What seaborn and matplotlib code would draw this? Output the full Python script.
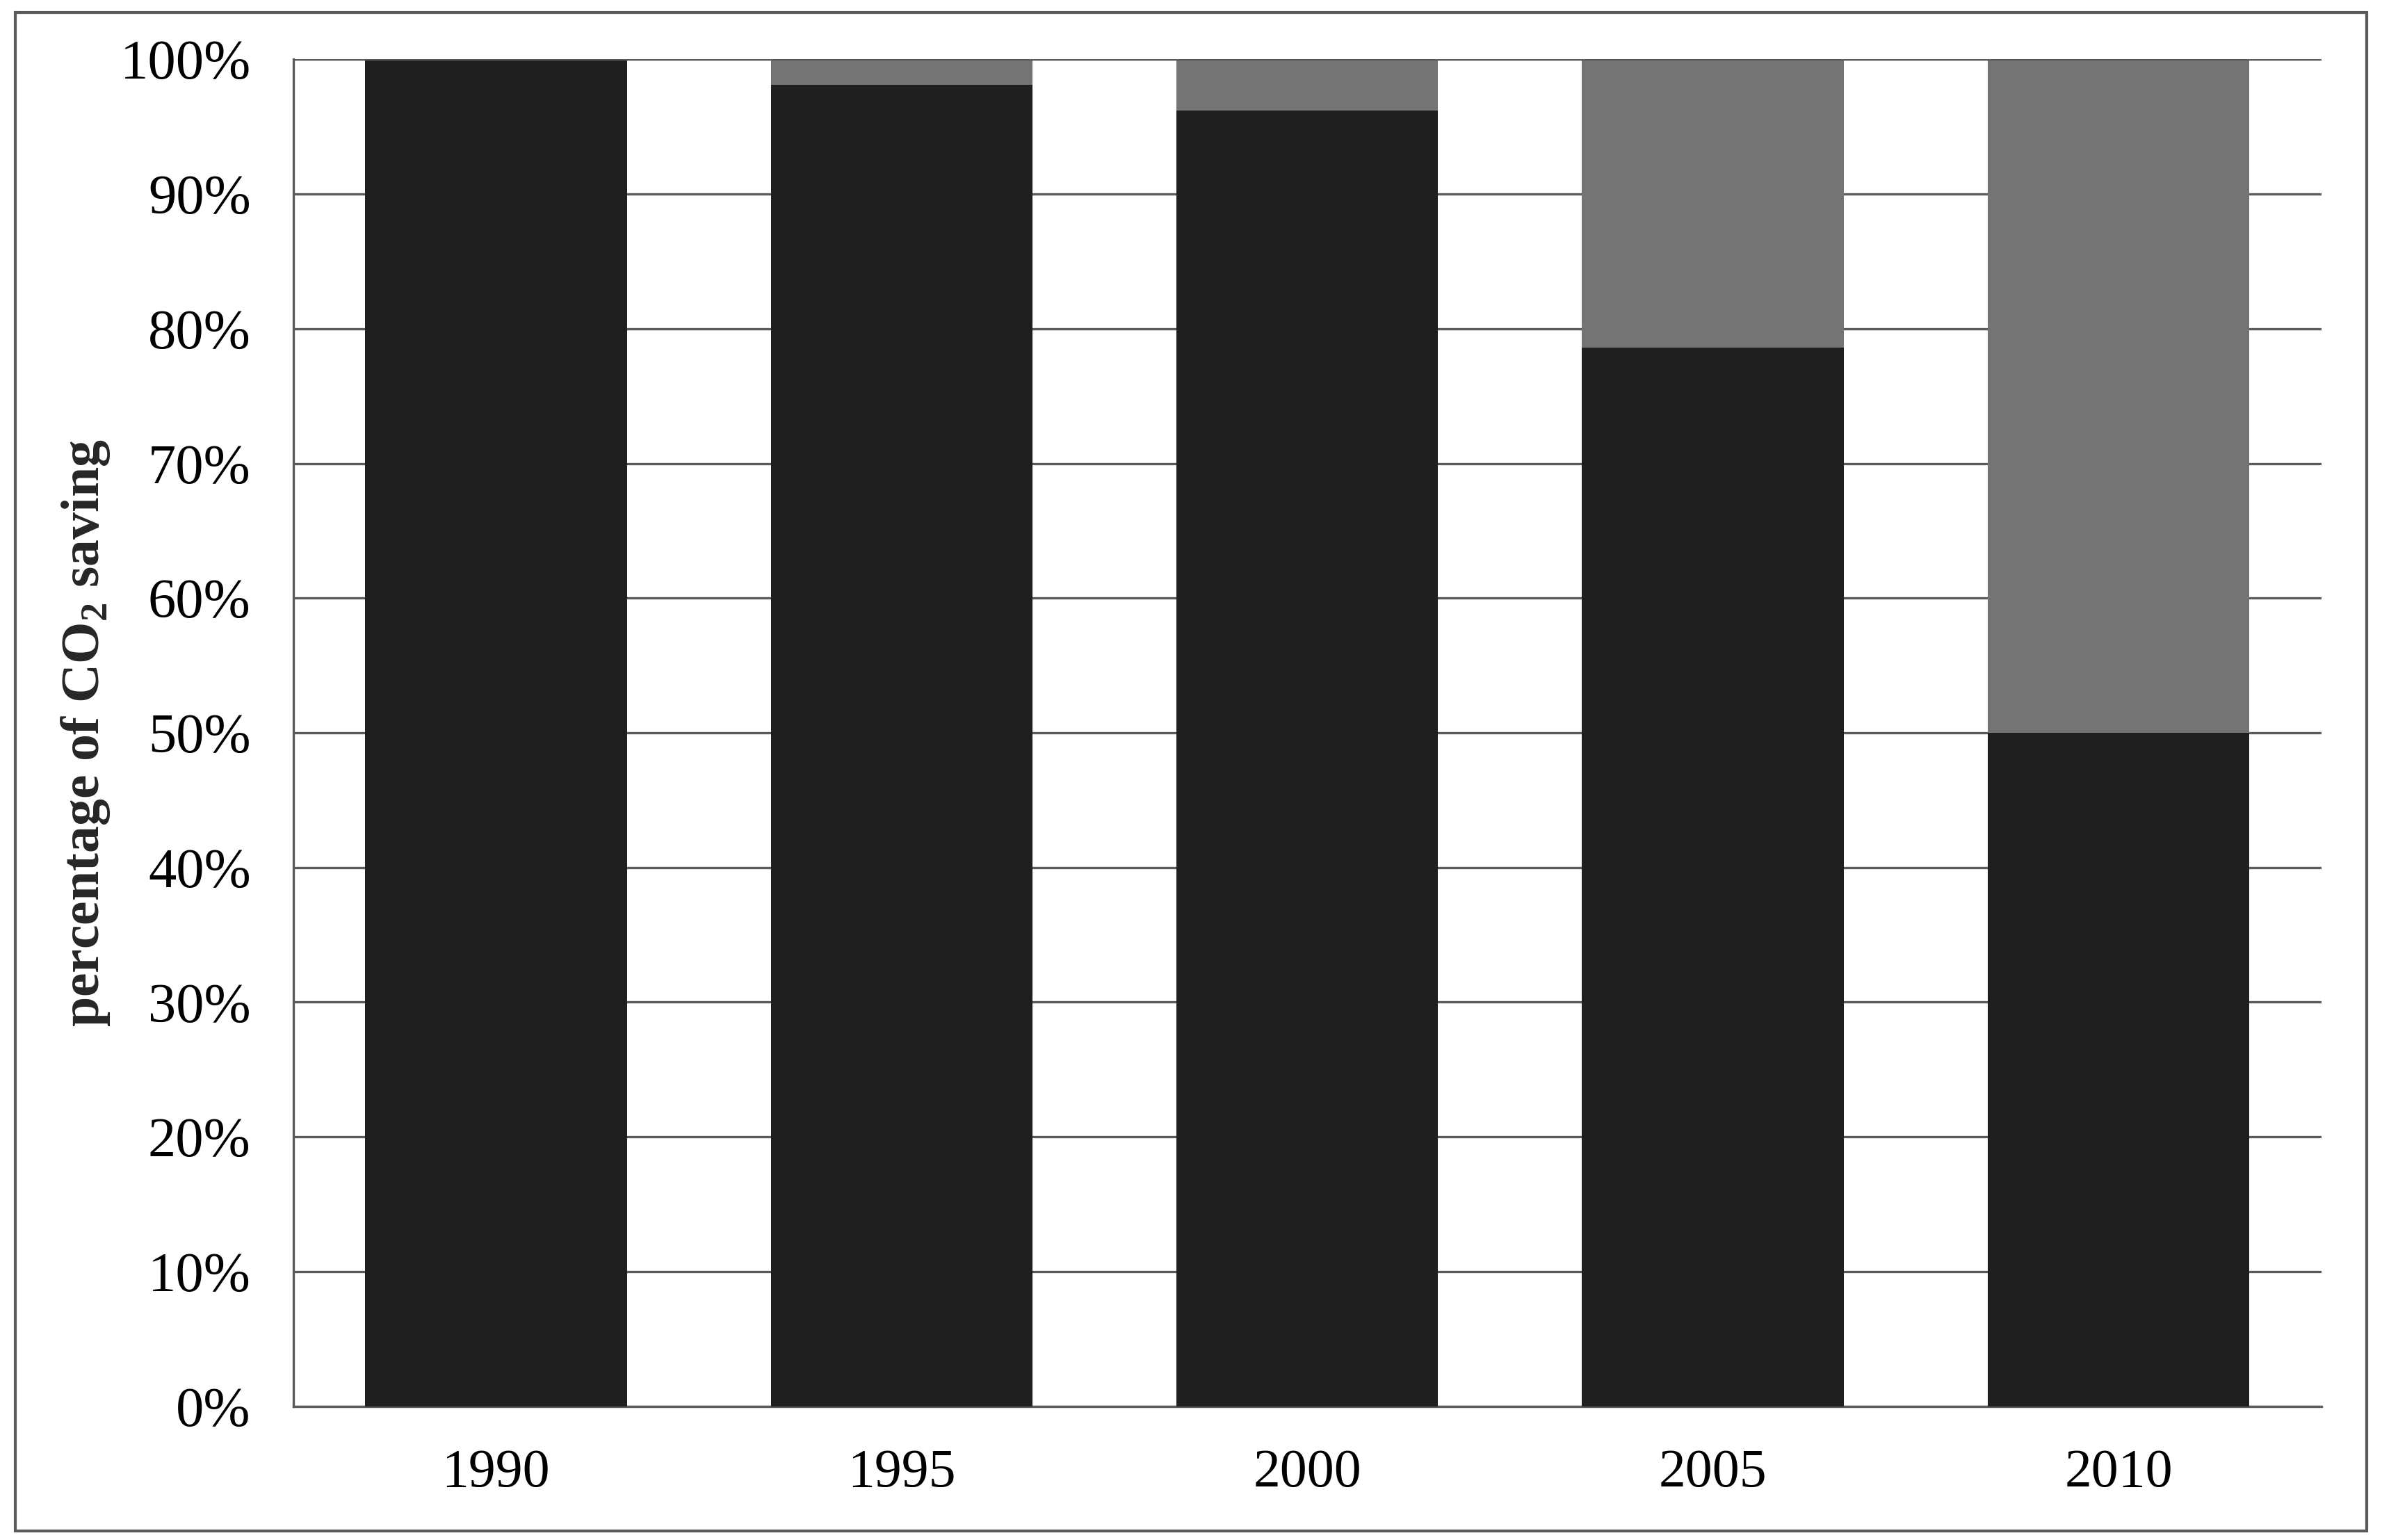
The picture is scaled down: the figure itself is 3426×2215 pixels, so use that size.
import pandas as pd
import matplotlib.pyplot as plt
import seaborn as sns
from matplotlib.patches import Rectangle
from matplotlib.ticker import PercentFormatter

years = ['1990', '1995', '2000', '2005', '2010']
lower_share = [100.0, 98.1, 96.2, 78.6, 50.0]
upper_share = [0.0, 1.9, 3.8, 21.4, 50.0]

df = pd.DataFrame({'Year': years, 'Lower': lower_share, 'Upper': upper_share})
df['Total'] = df['Lower'] + df['Upper']

sns.set_style('white')
plt.rcParams['font.family'] = ['Liberation Serif', 'DejaVu Serif']
plt.rcParams['mathtext.fontset'] = 'custom'
plt.rcParams['mathtext.rm'] = 'Liberation Serif'
plt.rcParams['mathtext.bf'] = 'Liberation Serif:bold'

fig = plt.figure(figsize=(17.13, 11.075), dpi=200)
ax = fig.add_axes([0.1231, 0.0868, 0.9745 - 0.1231, 0.9615 - 0.0868])

sns.barplot(x='Year', y='Total', data=df, order=years, color='#747474',
            width=0.645, saturation=1, linewidth=0, ax=ax, zorder=2)
sns.barplot(x='Year', y='Lower', data=df, order=years, color='#1f1f1f',
            width=0.645, saturation=1, linewidth=0, ax=ax, zorder=3)

ax.set_ylim(0, 100)
ax.set_xlim(-0.5, 4.5)
ax.set_yticks(range(0, 101, 10))
ax.yaxis.set_major_formatter(PercentFormatter(decimals=0))
ax.grid(axis='y', color='#5a5a5a', linewidth=1.2, zorder=1)
ax.set_axisbelow(True)
ax.axhline(100, color='#5a5a5a', linewidth=1.2, zorder=4)

for s in ['top', 'right']:
    ax.spines[s].set_visible(False)
for s in ['left', 'bottom']:
    ax.spines[s].set_color('#5a5a5a')
    ax.spines[s].set_linewidth(1.2)

ax.tick_params(axis='both', length=0, colors='black')
ax.tick_params(axis='y', pad=22, labelsize=29)
ax.tick_params(axis='x', pad=22, labelsize=28)
ax.set_xlabel('')
ax.set_ylabel(r'percentage of CO$_\mathbf{2}$ saving', fontsize=28,
              fontweight='bold', labelpad=4)

fig.patches.append(Rectangle((0.0065, 0.006), 0.987, 0.986, transform=fig.transFigure,
                             fill=False, edgecolor='#5a5a5a', linewidth=1.5))

plt.savefig('out.png', dpi=200)
